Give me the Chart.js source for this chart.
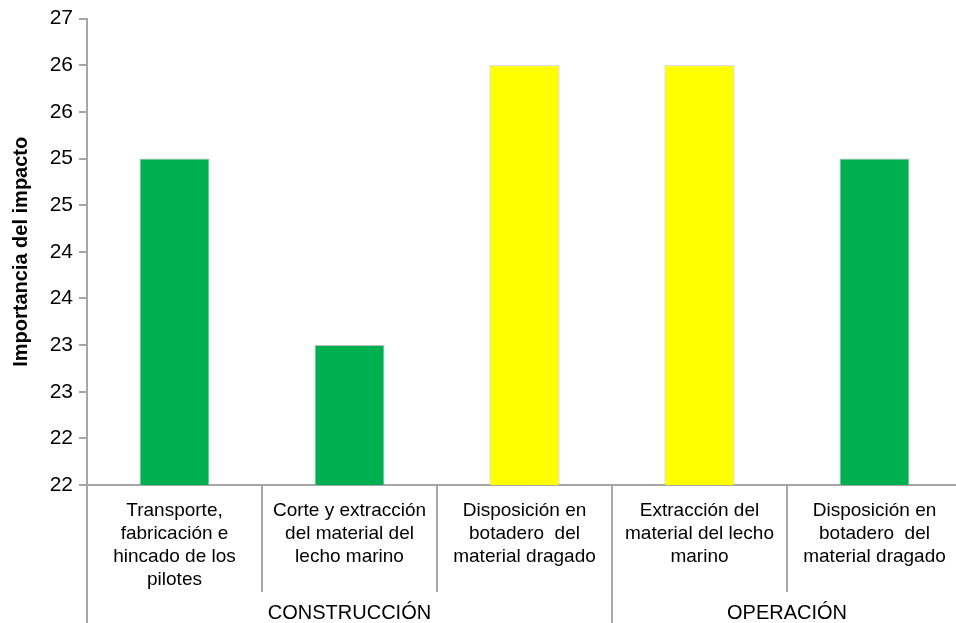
<!DOCTYPE html>
<html><head><meta charset="utf-8">
<script src="https://cdn.jsdelivr.net/npm/chart.js@4.4.0/dist/chart.umd.min.js"></script>
<style>html,body{margin:0;padding:0;overflow:hidden;background:#fff}#wrap{width:962px;height:623px}</style>
</head><body><div id="wrap"><canvas id="c" width="962" height="623"></canvas></div>
<script>
const categories = [
  ['Transporte,', 'fabricación e', 'hincado de los', 'pilotes'],
  ['Corte y extracción', 'del material del', 'lecho marino'],
  ['Disposición en', 'botadero  del', 'material dragado'],
  ['Extracción del', 'material del lecho', 'marino'],
  ['Disposición en', 'botadero  del', 'material dragado']
];
const values = [25.5, 23.5, 26.5, 26.5, 25.5];
const barColors = ['#00B050', '#00B050', '#FFFF00', '#FFFF00', '#00B050'];
const groups = ['CONSTRUCCIÓN', 'OPERACIÓN'];
const groupSizes = [3, 2];
const yTickValues = [22, 22.5, 23, 23.5, 24, 24.5, 25, 25.5, 26, 26.5, 27];
const yTickLabels = ['22', '22', '23', '23', '24', '24', '25', '25', '26', '26', '27'];
const yTitle = 'Importancia del impacto';

// group boundaries / centres derived from group sizes
const boundaries = [0];
const centers = [];
groupSizes.forEach(n => { const s = boundaries[boundaries.length - 1]; centers.push(s + n / 2); boundaries.push(s + n); });
const total = boundaries[boundaries.length - 1];

const FONT = "'Liberation Sans', Arial, sans-serif";
const GRAY = '#a6a6a6';
Chart.defaults.font.family = FONT;

new Chart(document.getElementById('c'), {
  type: 'bar',
  data: {
    labels: categories,
    datasets: [{
      data: values,
      backgroundColor: barColors,
      borderColor: '#bfbfbf',
      borderWidth: 1,
      barPercentage: 0.4,
      categoryPercentage: 1,
      xAxisID: 'x',
      yAxisID: 'y'
    }]
  },
  options: {
    responsive: false,
    animation: false,
    devicePixelRatio: 1,
    layout: { padding: { top: 15, left: 0, right: 0, bottom: 0 } },
    plugins: { legend: { display: false }, tooltip: { enabled: false } },
    scales: {
      x: {
        type: 'category', position: 'bottom', weight: 0, offset: true,
        border: { display: true, color: GRAY, width: 2 },
        grid: { offset: true, drawOnChartArea: false, drawTicks: true, tickLength: 107, color: GRAY, lineWidth: 2 },
        ticks: { autoSkip: false, maxRotation: 0, minRotation: 0, padding: -93, color: '#000',
                 font: { size: 19, lineHeight: 23 / 19 } },
        afterFit: s => { s.height = 105; }
      },
      x2: {
        type: 'linear', position: 'bottom', weight: 1, min: 0, max: total, offset: false,
        border: { display: false },
        grid: { offset: false, drawOnChartArea: false, drawTicks: true, tickLength: 40, color: GRAY,
                lineWidth: ctx => (ctx.tick && boundaries.includes(ctx.tick.value)) ? 2 : 0 },
        afterBuildTicks: s => { s.ticks = boundaries.concat(centers).sort((a, b) => a - b).map(v => ({ value: v })); },
        ticks: { autoSkip: false, maxRotation: 0, minRotation: 0, padding: -28, color: '#000',
                 font: { size: 20, lineHeight: 23 / 20 },
                 callback: v => { const i = centers.indexOf(v); return i >= 0 ? groups[i] : ''; } },
        afterFit: s => { s.height = 33; }
      },
      y: {
        min: 22, max: 27,
        afterBuildTicks: s => { s.ticks = yTickValues.map(v => ({ value: v })); },
        border: { display: true, color: GRAY, width: 2 },
        grid: { drawOnChartArea: false, drawTicks: true, tickLength: 8, color: GRAY, lineWidth: 2 },
        ticks: { padding: 6, color: '#000', font: { size: 21 },
                 callback: (v, i) => yTickLabels[i] },
        title: { display: true, text: yTitle, color: '#000', font: { size: 20, weight: 'bold' },
                 padding: { top: 9, bottom: 0 } },
        afterFit: s => { s.width = 87; }
      }
    }
  }
});
</script>
</body></html>
